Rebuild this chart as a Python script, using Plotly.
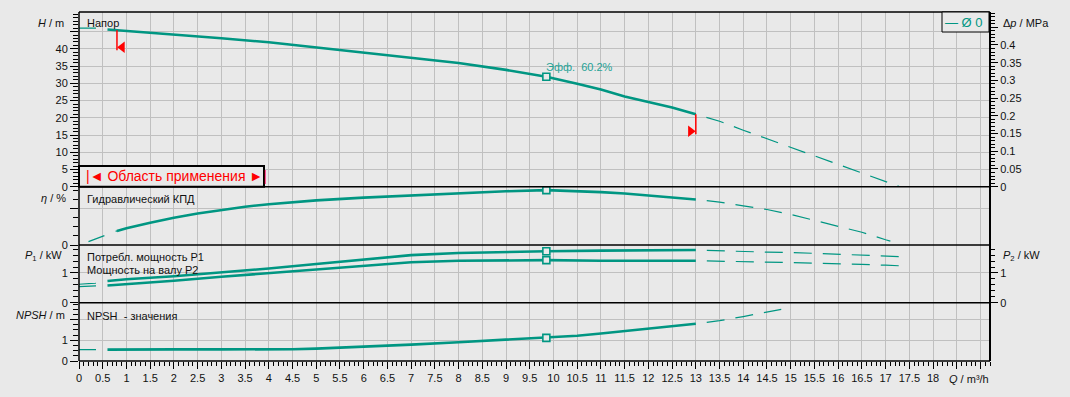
import plotly.graph_objects as go

# ---------------- data ----------------
q_head = [0, 0.35, 0.6, 0.8, 1, 2, 3, 4, 5, 6, 7, 8, 9, 9.85, 10.5, 11, 11.5, 12, 12.5, 13,
          13.5, 14, 14.5, 15, 15.5, 16, 16.5, 17, 17.3]
head_m = [46.0, 46.0, 45.6, 45.4, 45.2, 44.3, 43.1, 41.9, 40.4, 39.1, 37.6, 35.9, 33.9, 31.9, 29.9, 28.2, 26.2, 24.7, 23.0, 21.0,
          19.0, 16.4, 13.9, 11.5, 9.0, 6.6, 4.1, 1.5, 0.0]

q_eta = [0.2, 0.57, 0.8, 1, 1.5, 2, 2.5, 3, 3.5, 4, 5, 6, 7, 8, 9, 9.85, 10.5, 11, 11.5, 12, 12.5, 13,
         13.5, 14, 14.5, 15, 15.5, 16, 16.5, 17, 17.1]
eta_pct = [3.7, 11, 15.5, 18.5, 24.5, 30, 34.5, 38.5, 42, 44.8, 49, 52, 54.3, 56.8, 59, 60.2, 59.3, 58, 56.5, 54.5, 52.3, 50,
           47, 43, 39, 33.5, 27, 20.5, 14, 5.8, 4.3]

q_pow = [0, 0.35, 0.6, 1, 2, 3, 4, 5, 6, 7, 8, 9, 9.85, 11, 12, 13, 13.5, 14, 14.5, 15, 15.5, 16, 16.5, 17, 17.3]
p1_kw = [0.62, 0.66, 0.73, 0.79, 0.89, 1.01, 1.15, 1.30, 1.46, 1.60, 1.67, 1.71, 1.73, 1.75, 1.76, 1.77,
         1.74, 1.72, 1.70, 1.69, 1.66, 1.63, 1.59, 1.57, 1.55]
p2_kw = [0.54, 0.56, 0.58, 0.62, 0.74, 0.87, 0.99, 1.12, 1.25, 1.36, 1.41, 1.43, 1.43, 1.41, 1.41, 1.41,
         1.40, 1.38, 1.37, 1.35, 1.33, 1.32, 1.29, 1.26, 1.24]

q_npsh = [0, 0.35, 0.6, 1, 2, 3, 4, 4.5, 5, 6, 7, 8, 9, 9.85, 10.5, 11, 11.5, 12, 12.5, 13,
          13.5, 14, 14.5, 14.8]
npsh_m = [0.55, 0.55, 0.55, 0.56, 0.56, 0.56, 0.56, 0.57, 0.60, 0.68, 0.79, 0.91, 1.02, 1.12, 1.22, 1.33, 1.44, 1.55, 1.67, 1.80,
          1.95, 2.15, 2.36, 2.50]

q_op_min, q_op_max = 0.8, 13.0          # operating range (Область применения)
q_bep = 9.85                             # best efficiency point
eff_label = "Эфф.  60.2%"

x_ticks = [i * 0.5 for i in range(0, 39)]          # 0 .. 19
x_tick_text = [("%g" % v) if v <= 18 else "" for v in x_ticks]
h_ticks = [0, 5, 10, 15, 20, 25, 30, 35, 40, 45]
h_tick_text = [str(v) for v in h_ticks[:-1]] + [""]
dp_ticks = [0, 0.05, 0.1, 0.15, 0.2, 0.25, 0.3, 0.35, 0.4, 0.45]
dp_tick_text = ["%g" % v for v in dp_ticks[:-1]] + [""]

# ---------------- style ----------------
TEAL = "#009682"
BG = "#e9e9e9"
GRID = "#c0c0c0"
FONT = "Liberation Sans, Arial, sans-serif"
TXT = "#111111"

W, HT = 1070, 397
L, R, T, B = 79, 80, 12, 36
PW, PH = W - L - R, HT - T - B


def px(x):
    return (x - L) / PW


def py(y):
    return (T + PH - y) / PH


dom_h = [py(186.7), 1.0]
dom_eta = [py(245), py(186.7)]
dom_p = [py(302.7), py(245)]
dom_npsh = [0.0, py(302.7)]

fig = go.Figure()


def add_curve(q, v, xa, ya, solid_from, solid_to=q_op_max):
    left = [(a, b) for a, b in zip(q, v) if a <= solid_from]
    mid = [(a, b) for a, b in zip(q, v) if solid_from <= a <= solid_to]
    right = [(a, b) for a, b in zip(q, v) if a >= solid_to]
    for pts, dash, w in [(left, "17px,12px", 1.2), (right, "0px,11px,18px,0px", 1.2), (mid, "solid", 2.6)]:
        if len(pts) > 1:
            fig.add_trace(go.Scatter(x=[p[0] for p in pts], y=[p[1] for p in pts], mode="lines",
                                     line=dict(color=TEAL, width=w, dash=dash),
                                     xaxis=xa, yaxis=ya, hoverinfo="skip", showlegend=False))
    # BEP marker
    if q_bep in q:
        fig.add_trace(go.Scatter(x=[q_bep], y=[v[q.index(q_bep)]], mode="markers",
                                 marker=dict(symbol="square", size=7, color=BG, line=dict(color=TEAL, width=1.6)),
                                 xaxis=xa, yaxis=ya, hoverinfo="skip", showlegend=False))


add_curve(q_head, head_m, "x", "y", 0.6)
add_curve(q_eta, eta_pct, "x2", "y2", 0.8)
add_curve(q_pow, p1_kw, "x3", "y3", 0.6)
add_curve(q_pow, p2_kw, "x3", "y3", 0.6)
add_curve(q_npsh, npsh_m, "x4", "y4", 0.6)

# empty traces to register the right-hand axes
fig.add_trace(go.Scatter(x=[], y=[], xaxis="x", yaxis="y5", showlegend=False))
fig.add_trace(go.Scatter(x=[], y=[], xaxis="x3", yaxis="y6", showlegend=False))

# operating range markers
h_at_min = head_m[q_head.index(q_op_min)]
h_at_max = head_m[q_head.index(q_op_max)]
fig.add_trace(go.Scatter(x=[q_op_min, q_op_min], y=[h_at_min, h_at_min - 5.8], mode="lines",
                         line=dict(color="red", width=1.5), hoverinfo="skip", showlegend=False))
fig.add_trace(go.Scatter(x=[q_op_min + 0.11], y=[h_at_min - 4.9], mode="markers",
                         marker=dict(symbol="triangle-left", size=10, color="red"), hoverinfo="skip", showlegend=False))
fig.add_trace(go.Scatter(x=[q_op_max, q_op_max], y=[h_at_max, h_at_max - 5.8], mode="lines",
                         line=dict(color="red", width=1.5), hoverinfo="skip", showlegend=False))
fig.add_trace(go.Scatter(x=[q_op_max - 0.11], y=[h_at_max - 4.9], mode="markers",
                         marker=dict(symbol="triangle-right", size=10, color="red"), hoverinfo="skip", showlegend=False))

tickfont = dict(family=FONT, size=11, color=TXT)


def xax(anchor, labels=False):
    d = dict(domain=[0, 1], anchor=anchor, range=[0, 19.2], showgrid=True, gridcolor=GRID, gridwidth=1,
             zeroline=False, showline=False, tickmode="array", tickvals=x_ticks, fixedrange=True)
    if labels:
        d.update(ticktext=x_tick_text, showticklabels=True, ticks="outside", ticklen=7, tickcolor="black",
                 tickwidth=1, tickfont=tickfont, tickangle=0,
                 minor=dict(tickmode="linear", tick0=0, dtick=0.1, ticks="outside", ticklen=4,
                            tickcolor="black", showgrid=False))
    else:
        d.update(showticklabels=False, ticks="")
    return d


def yax(anchor, domain, rng, tickvals, ticktext, minor_dtick, grid=True, side="left", overlaying=None,
        ticklen=8, minorlen=5):
    d = dict(anchor=anchor, range=rng, tickmode="array", tickvals=tickvals, ticktext=ticktext,
             showgrid=grid, gridcolor=GRID, zeroline=False, showline=False, ticks="outside",
             ticklen=ticklen, tickcolor="black", tickwidth=1, tickfont=tickfont, side=side, fixedrange=True,
             minor=dict(tickmode="linear", tick0=0, dtick=minor_dtick, ticks="outside", ticklen=minorlen,
                        tickcolor="black", showgrid=False))
    if overlaying:
        d["overlaying"] = overlaying
    else:
        d["domain"] = domain
    return d


fig.update_layout(
    width=W, height=HT, margin=dict(l=L, r=R, t=T, b=B, pad=0),
    paper_bgcolor=BG, plot_bgcolor=BG, showlegend=False,
    font=dict(family=FONT, size=11, color=TXT),
    xaxis=xax("y"), xaxis2=xax("y2"), xaxis3=xax("y3"), xaxis4=xax("y4", labels=True),
    yaxis=yax("x", dom_h, [0, 50.7], h_ticks, h_tick_text, 1),
    yaxis2=yax("x2", dom_eta, [0, 64], [0, 40], ["0", ""], 10),
    yaxis3=yax("x3", dom_p, [0, 1.94], [0, 1], ["0", "1"], 0.2),
    yaxis4=yax("x4", dom_npsh, [0, 2.82], [0, 1, 2], ["0", "1", ""], 0.25),
    yaxis5=yax("x", None, [0, 0.493], dp_ticks, dp_tick_text, 0.01, grid=False, side="right",
               overlaying="y", ticklen=7, minorlen=4),
    yaxis6=yax("x3", None, [0, 1.94], [0, 1], ["0", "1"], 0.2, grid=False, side="right",
               overlaying="y3", ticklen=7, minorlen=4),
)

# frame and panel separators
shapes = []
lw = 1.5
for y0 in [0, 1, dom_eta[1], dom_p[1], dom_npsh[1]]:
    shapes.append(dict(type="line", xref="paper", yref="paper", x0=0, x1=1, y0=y0, y1=y0,
                       line=dict(color="black", width=lw)))
shapes.append(dict(type="line", xref="paper", yref="paper", x0=0, x1=0, y0=0, y1=1, line=dict(color="black", width=lw)))
shapes.append(dict(type="line", xref="paper", yref="paper", x0=1, x1=1, y0=0, y1=1, line=dict(color="black", width=2)))
# operating range box
shapes.append(dict(type="rect", xref="paper", yref="paper", x0=px(79), x1=px(264), y0=py(186.7), y1=py(166),
                   fillcolor=BG, line=dict(color="black", width=2), layer="above"))
# legend box
shapes.append(dict(type="rect", xref="paper", yref="paper", x0=px(942), x1=px(989), y0=py(32), y1=py(12),
                   fillcolor=BG, line=dict(color="black", width=1), layer="above"))
fig.update_layout(shapes=shapes)


def ann(text, x, y, xanchor="left", size=11, color=TXT, **kw):
    return dict(text=text, x=px(x), y=py(y), xref="paper", yref="paper", xanchor=xanchor, yanchor="middle",
                showarrow=False, font=dict(family=FONT, size=size, color=color), **kw)


annotations = [
    ann("Напор", 85, 23),
    ann("Гидравлический КПД", 85, 199),
    ann("Потребл. мощность P1", 85, 257),
    ann("Мощность на валу P2", 85, 270),
    ann("NPSH  - значения", 85, 316),
    ann("<i>H</i> / m", 66, 23, xanchor="right"),
    ann("<i>η</i> / %", 68, 198, xanchor="right"),
    ann("<i>P</i><sub>1</sub> / kW", 64, 256, xanchor="right"),
    ann("<i>NPSH</i> / m", 67, 315, xanchor="right"),
    ann("Δ<i>p</i> / MPa", 1001, 23),
    ann("<i>P</i><sub>2</sub> / kW", 1001, 256),
    ann("<i>Q</i> / m³/h", 947, 379),
    ann("|◄ Область применения ►|", 176.5, 176, xanchor="center", size=14, color="#ff0000"),
    ann("— Ø 0", 964, 22, xanchor="center", size=13, color=TEAL),
    dict(text=eff_label, x=q_bep, y=head_m[q_head.index(q_bep)], xref="x", yref="y", xanchor="left",
         yanchor="bottom", yshift=2, xshift=-2, showarrow=False, font=dict(family=FONT, size=11, color="#1fa396")),
]
fig.update_layout(annotations=annotations)

fig.write_html("out.html")
